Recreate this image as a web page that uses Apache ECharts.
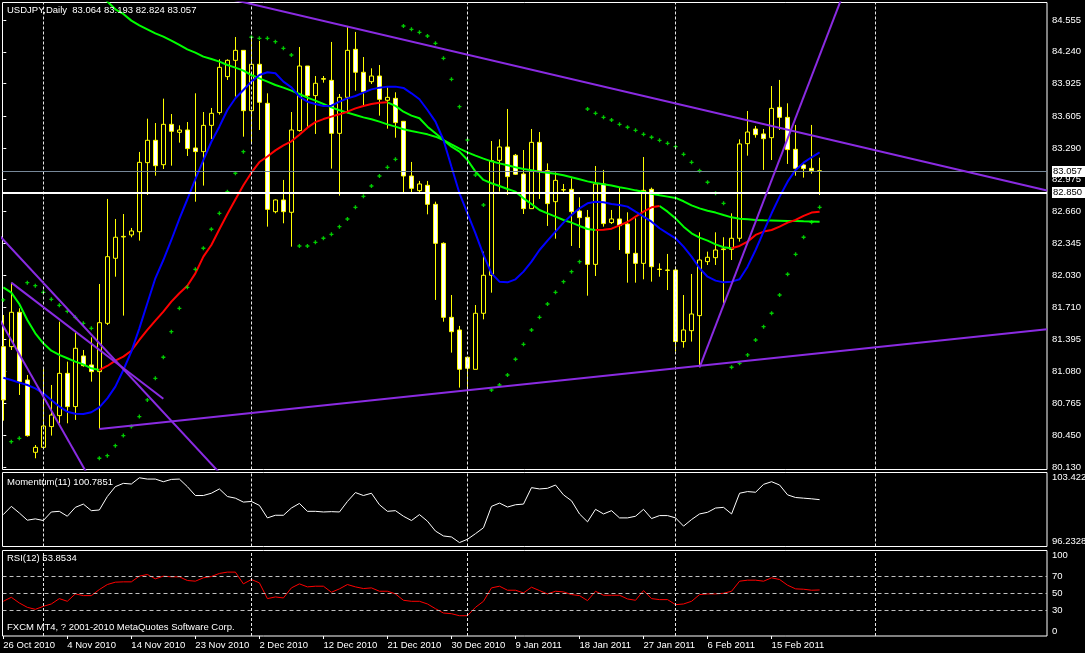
<!DOCTYPE html>
<html><head><meta charset="utf-8">
<script src="https://cdn.jsdelivr.net/npm/echarts@6/dist/echarts.min.js"></script>
<style>html,body{margin:0;padding:0;background:#000;}#c{width:1085px;height:653px;}</style>
</head><body><div id="c"></div>
<script>
const symbolName = 'USDJPY';
const timeframe = 'Daily';
const copyrightText = 'FXCM MT4, ? 2001-2010 MetaQuotes Software Corp.';
const momentumName = 'Momentum(11)';
const rsiName = 'RSI(12)';

const dateLabels = ['26 Oct 2010','4 Nov 2010','14 Nov 2010','23 Nov 2010','2 Dec 2010','12 Dec 2010','21 Dec 2010','30 Dec 2010','9 Jan 2011','18 Jan 2011','27 Jan 2011','6 Feb 2011','15 Feb 2011'];
const dateLabelBars = [0,8,16,24,32,40,48,56,64,72,80,88,96];
const monthGridBars = [5,31,58,84,109];

const opens = [81.324,81.324,81.664,80.994,80.279,80.328,80.533,80.642,81.060,80.731,
81.232,81.143,81.077,81.555,82.198,82.409,82.429,82.461,83.144,83.365,
83.124,83.523,83.444,83.467,83.289,83.253,83.513,83.639,83.995,84.156,
84.255,83.658,84.117,83.731,82.659,82.775,82.653,83.461,84.100,83.807,
83.975,83.958,83.434,83.790,84.265,84.038,83.945,84.001,83.761,83.780,
83.553,83.012,82.867,82.920,82.732,82.346,81.614,81.489,81.219,81.100,
81.654,82.030,83.167,83.299,83.217,83.032,82.689,83.345,83.065,82.758,
82.874,82.880,82.666,82.603,82.138,82.933,82.551,82.587,82.537,82.247,
82.148,82.880,82.091,82.082,82.082,81.374,81.482,81.631,82.165,82.204,
82.284,82.287,82.396,83.332,83.477,83.428,83.391,83.691,83.592,83.276,
83.121,83.088,83.064];
const highs = [81.637,81.957,81.703,81.044,80.351,81.120,80.945,81.571,81.176,81.463,
81.291,81.416,81.944,82.785,82.587,82.636,82.498,83.250,83.579,83.536,
83.777,83.625,83.513,83.546,83.830,83.645,83.685,84.166,84.166,84.387,
84.258,84.390,84.347,83.830,82.781,82.973,83.645,84.288,84.100,84.001,
84.001,84.338,83.823,84.496,84.437,84.189,84.077,84.110,83.889,83.840,
83.553,83.151,82.963,82.963,82.758,82.356,81.835,81.529,81.219,81.736,
82.264,83.358,83.375,83.675,83.230,83.269,83.477,83.447,83.137,83.048,
82.933,82.989,82.801,82.676,83.111,83.072,82.676,82.900,82.653,82.593,
83.200,82.897,82.148,82.241,82.115,81.835,82.043,82.455,82.264,82.455,
82.406,82.643,83.375,83.655,83.507,83.477,83.902,83.962,83.731,83.517,
83.147,83.517,83.193];
const lows = [80.592,81.291,80.846,80.434,80.220,80.318,80.444,80.566,80.566,80.599,
81.126,80.978,80.510,81.538,82.016,81.631,82.406,82.373,82.824,83.015,
83.081,83.114,83.342,83.210,82.758,82.917,83.378,83.619,83.962,83.797,
83.401,83.342,83.467,82.511,82.643,82.544,82.313,83.451,83.494,83.428,
83.935,83.085,82.818,83.632,83.856,83.698,83.922,83.609,83.480,83.391,
82.841,82.841,82.841,82.633,81.786,81.571,81.265,80.919,80.879,81.100,
81.594,81.858,82.857,82.824,83.022,82.636,82.689,82.785,82.518,82.392,
82.841,82.320,82.300,81.828,82.023,82.511,82.537,82.280,81.957,81.957,
81.990,81.967,82.016,81.884,81.275,81.314,81.374,81.120,82.132,82.132,
81.753,82.181,82.363,83.213,83.391,83.072,83.170,83.467,83.131,83.015,
82.996,83.035,82.824];
const closes = [80.797,81.664,80.978,80.444,80.328,80.539,80.648,81.060,80.731,81.308,
81.136,81.077,81.561,82.214,82.406,82.415,82.468,83.147,83.365,83.114,
83.523,83.454,83.467,83.283,83.253,83.513,83.632,84.087,84.156,84.255,
83.658,84.117,83.741,82.682,82.775,82.659,83.467,84.100,83.807,83.929,
83.970,83.434,83.790,84.255,84.038,83.846,84.001,83.770,83.790,83.540,
83.012,82.890,82.933,82.732,82.346,81.614,81.472,81.100,81.110,81.654,
82.030,83.164,83.299,83.006,83.029,82.689,83.345,83.065,82.739,82.969,
82.877,82.659,82.600,82.138,82.933,82.541,82.587,82.521,82.247,82.148,
82.870,82.115,82.087,82.079,81.374,81.489,81.647,82.181,82.208,82.280,
82.290,82.396,83.329,83.447,83.421,83.381,83.681,83.592,83.273,83.088,
83.085,83.064,83.057];

const maFast = [81.017,80.994,80.968,80.945,80.912,80.862,80.797,80.731,80.681,80.661,
80.658,80.675,80.724,80.813,80.928,81.093,81.275,81.505,81.753,82.000,
82.181,82.379,82.587,82.782,82.980,83.170,83.351,83.500,83.665,83.781,
83.863,83.945,84.011,84.038,84.028,83.945,83.889,83.797,83.747,83.724,
83.705,83.708,83.747,83.780,83.803,83.836,83.869,83.886,83.896,83.896,
83.883,83.830,83.771,83.665,83.550,83.368,83.104,82.841,82.643,82.445,
82.231,82.049,81.967,81.960,81.990,82.066,82.165,82.280,82.373,82.462,
82.551,82.626,82.692,82.742,82.758,82.752,82.735,82.725,82.709,82.659,
82.610,82.560,82.495,82.445,82.396,82.313,82.214,82.099,82.016,81.977,
81.960,81.967,81.990,82.115,82.280,82.462,82.643,82.808,82.956,83.072,
83.144,83.197,83.246];
const maMid = [81.911,81.858,81.746,81.588,81.456,81.357,81.284,81.242,81.209,81.176,
81.149,81.110,81.093,81.133,81.186,81.225,81.284,81.390,81.489,81.581,
81.670,81.769,81.852,81.927,82.049,82.214,82.330,82.485,82.636,82.779,
82.920,83.045,83.150,83.205,83.265,83.315,83.355,83.420,83.490,83.545,
83.575,83.599,83.622,83.648,83.681,83.705,83.724,83.737,83.741,83.705,
83.648,83.609,83.583,83.500,83.434,83.368,83.302,83.253,83.170,83.055,
82.973,82.940,82.913,82.883,82.857,82.791,82.735,82.676,82.643,82.610,
82.577,82.551,82.518,82.488,82.478,82.481,82.491,82.524,82.557,82.610,
82.659,82.702,82.715,82.659,82.593,82.511,82.445,82.402,82.373,82.336,
82.307,82.297,82.320,82.363,82.429,82.462,82.478,82.511,82.551,82.577,
82.617,82.650,82.659];
const maSlow = [null,null,null,null,null,null,null,null,null,null,
null,null,84.852,84.737,84.661,84.615,84.549,84.502,84.463,84.423,
84.390,84.351,84.308,84.265,84.232,84.193,84.169,84.143,84.110,84.084,
84.054,84.011,83.978,83.945,83.912,83.886,83.856,83.823,83.787,83.757,
83.724,83.691,83.662,83.639,83.616,83.592,83.573,83.550,83.523,83.500,
83.474,83.457,83.441,83.424,83.401,83.368,83.325,83.283,83.246,83.213,
83.184,83.157,83.137,83.118,83.098,83.081,83.068,83.055,83.045,83.035,
83.019,82.999,82.979,82.959,82.943,82.930,82.917,82.900,82.887,82.870,
82.854,82.837,82.821,82.808,82.795,82.762,82.722,82.692,82.669,82.650,
82.626,82.603,82.590,82.584,82.577,82.574,82.573,82.570,82.567,82.566,
82.564,82.563,82.560];
const sar = [81.786,80.384,80.417,81.957,81.927,81.861,81.792,81.733,81.673,81.614,
81.555,81.505,80.220,80.246,80.345,80.444,80.533,80.632,80.797,81.011,
81.219,81.472,81.703,81.911,82.089,82.297,82.485,82.643,82.857,83.039,
83.253,84.384,84.374,84.374,84.341,84.275,84.209,82.320,82.320,82.356,
82.396,82.435,82.511,82.587,82.702,82.811,82.913,83.012,83.098,83.177,
84.496,84.463,84.433,84.397,84.324,84.176,83.968,83.698,83.368,83.022,
82.725,80.895,80.945,81.044,81.199,81.347,81.489,81.614,81.746,81.861,
81.967,82.066,82.165,83.675,83.632,83.592,83.566,83.523,83.494,83.464,
83.424,83.395,83.365,83.335,83.302,83.226,83.147,83.065,82.950,82.841,
82.742,81.120,81.159,81.242,81.390,81.522,81.654,81.835,82.040,82.237,
82.406,82.554,82.702];
const momentum = [99.332,100.131,99.491,98.789,98.916,98.757,99.587,99.651,99.172,100.035,
100.354,99.715,99.779,101.089,102.048,102.367,102.303,102.910,102.783,102.783,
102.527,102.751,102.783,102.048,101.185,101.185,101.409,101.824,101.089,100.929,
100.546,100.610,100.226,99.012,99.268,99.268,99.971,100.418,99.651,99.651,
99.587,99.619,99.587,100.610,101.472,101.185,101.409,100.290,99.651,99.715,
99.172,98.757,99.332,98.693,97.734,97.255,97.159,96.616,96.935,97.479,
98.054,100.131,100.450,100.067,100.290,100.354,101.952,101.824,101.888,102.207,
101.249,100.674,99.396,98.629,99.843,99.396,99.715,99.012,99.012,99.172,
99.843,98.948,99.236,99.236,99.012,98.213,98.852,99.396,99.555,99.971,
100.035,99.396,101.409,101.568,101.504,102.271,102.527,102.207,101.249,100.993,
100.929,100.865,100.7851];
const rsi = [40.59,45.29,38.63,33.53,31.18,34.71,37.45,43.73,40.59,49.22,
47.25,47.25,54.31,60.20,62.94,63.33,63.33,70.00,71.96,66.86,
70.00,69.22,69.22,64.90,64.12,68.04,69.61,73.14,74.71,74.71,
60.98,66.08,62.16,43.73,45.69,44.51,56.27,60.98,57.45,58.24,
58.24,51.18,55.10,60.20,57.45,55.49,56.27,52.35,52.35,49.22,
41.76,40.59,40.59,37.45,31.96,26.86,26.08,23.73,23.73,33.53,
40.59,56.27,58.24,53.53,53.53,50.39,57.06,53.14,49.22,52.35,
51.57,48.43,47.25,41.37,52.35,47.65,47.65,47.65,43.33,41.76,
53.14,43.73,42.55,42.55,36.67,37.45,40.59,48.43,49.22,49.22,
50.00,52.35,64.12,65.29,65.29,64.12,68.04,66.08,59.41,55.10,
54.71,53.53,53.8534];

const priceTicks = [84.555,84.240,83.925,83.605,83.290,82.975,82.660,82.345,82.030,81.710,81.395,81.080,80.765,80.450,80.130];
const priceMin = 80.1089, priceMax = 84.7281;
const momentumMin = 96.2328, momentumMax = 103.422;
const rsiLevels = [30, 50, 70];
const rsiMin = 0, rsiMax = 100;
const horizontalLine = 82.850;
// trendlines: [[bar, price], [bar, price]]
const trendTop = [[27, 84.787], [130.41, 82.868]];
const trendBottom = [[12, 80.510], [130.41, 81.496]];
const trendSteep = [[87, 81.120], [105, 84.822]];
const trendLeftA = [[-5, 82.809], [30, 79.822]];
const trendLeftB = [[1, 81.957], [20, 80.809]];
const trendLeftC = [[-2, 81.806], [13, 79.715]];

// ---------- build ----------
const FONT = 'Liberation Sans';
const XMIN = -0.1, XMAX = 130.4125;
const last = closes.length - 1;
const bid = closes[last];
const mainTitle = symbolName + ',' + timeframe + '  ' + [opens[last], highs[last], lows[last], closes[last]].map(v => v.toFixed(3)).join(' ');

const candleData = opens.map((o, k) => [k, o, closes[k], lows[k], highs[k]]);
const toXY = arr => arr.map((v, k) => [k, v]);

function colorRuns(arr, wantUp) {
  const out = []; let dir = -1; let inRun = false;
  for (let i = 1; i < arr.length; i++) {
    if (arr[i] == null || arr[i - 1] == null) { inRun = false; continue; }
    if (arr[i] > arr[i - 1]) dir = 1; else if (arr[i] < arr[i - 1]) dir = -1;
    const match = (dir === 1) === wantUp;
    if (match) {
      if (!inRun) { if (out.length) out.push([i - 1, null]); out.push([i - 1, arr[i - 1]]); }
      out.push([i, arr[i]]); inRun = true;
    } else inRun = false;
  }
  return out;
}

const txt = (extra) => Object.assign({ color: '#fff', fontSize: 9.5, fontFamily: FONT, fontWeight: 'normal' }, extra || {});
const gridBase = { left: 2.5, right: 38, show: true, borderColor: '#fff', borderWidth: 1, backgroundColor: '#000', outerBoundsMode: 'none', containLabel: false };

function yAx(grid, min, max, extra) {
  return Object.assign({ type: 'value', gridIndex: grid, position: 'right', min: min, max: max,
    axisLine: { show: false }, splitLine: { show: false }, axisTick: { show: false }, axisLabel: { show: false } }, extra);
}
const lbl = (vals, more) => Object.assign({ show: true, customValues: vals, color: '#fff', fontSize: 9.5, fontFamily: FONT, margin: 5, hideOverlap: false }, more || {});

function lineSeries(data, color, width, xi, yi, z) {
  return { type: 'line', xAxisIndex: xi, yAxisIndex: yi, data: data, showSymbol: false, symbol: 'none',
    connectNulls: false, lineStyle: { color: color, width: width }, itemStyle: { color: color }, z: z, silent: true, animation: false };
}
const vGrid = (xi, yi) => ({ type: 'line', xAxisIndex: xi, yAxisIndex: yi, data: [], z: 1, silent: true,
  markLine: { silent: true, symbol: ['none', 'none'], label: { show: false }, animation: false,
    lineStyle: { color: '#e8e8e8', type: [3, 2], width: 1 }, data: monthGridBars.map(b => ({ xAxis: b })) } });

const trendColor = '#8a2be2';
const plusPath = 'path://M1 0h1v1h1v1h-1v1h-1v-1h-1v-1h1z';

const option = {
  backgroundColor: '#000',
  animation: false,
  textStyle: { fontFamily: FONT },
  title: [
    { text: mainTitle, left: 7, top: 5.5, padding: 0, textStyle: txt() },
    { text: momentumName + ' ' + momentum[last], left: 7, top: 477.5, padding: 0, textStyle: txt() },
    { text: rsiName + ' ' + rsi[last], left: 7, top: 553.5, padding: 0, textStyle: txt() },
    { text: copyrightText, left: 7, top: 622, padding: 0, textStyle: txt() }
  ],
  grid: [
    Object.assign({ top: 2.5, height: 467 }, gridBase),
    Object.assign({ top: 472.5, height: 74 }, gridBase),
    Object.assign({ top: 550.5, height: 85.5 }, gridBase)
  ],
  xAxis: [0, 1, 2].map(g => ({
    type: 'value', gridIndex: g, min: XMIN, max: XMAX, show: g === 2,
    axisLine: { show: false }, splitLine: { show: false },
    axisTick: { show: g === 2, customValues: dateLabelBars, length: 3, lineStyle: { color: '#fff' } },
    axisLabel: { show: g === 2, customValues: dateLabelBars, align: 'left', margin: 4, color: '#fff', fontSize: 9.5, fontFamily: FONT,
      hideOverlap: false, formatter: v => dateLabels[dateLabelBars.indexOf(Math.round(v))] || '' }
  })),
  yAxis: [
    yAx(0, priceMin, priceMax, {
      axisTick: { show: true, customValues: priceTicks, length: 3, lineStyle: { color: '#fff' } },
      axisLabel: lbl(priceTicks, { formatter: v => v.toFixed(3) }) }),
    yAx(0, priceMin, priceMax, { axisLabel: lbl([bid], { formatter: v => v.toFixed(3), color: '#000', backgroundColor: '#fff', padding: [1, 6, 0, 1] }) }),
    yAx(0, priceMin, priceMax, { axisLabel: lbl([horizontalLine], { formatter: v => v.toFixed(3), color: '#000', backgroundColor: '#fff', padding: [1, 6, 0, 1] }) }),
    yAx(1, momentumMin, momentumMax, { axisLabel: lbl([momentumMax], { verticalAlign: 'top', formatter: v => String(v) }) }),
    yAx(1, momentumMin, momentumMax, { axisLabel: lbl([momentumMin], { verticalAlign: 'bottom', formatter: v => String(v) }) }),
    yAx(2, rsiMin, rsiMax, { axisLabel: lbl(rsiLevels) }),
    yAx(2, rsiMin, rsiMax, { axisLabel: lbl([rsiMax], { verticalAlign: 'top' }) }),
    yAx(2, rsiMin, rsiMax, { axisLabel: lbl([rsiMin], { verticalAlign: 'bottom' }) })
  ],
  series: [
    vGrid(0, 0), vGrid(1, 3), vGrid(2, 5),
    { type: 'candlestick', xAxisIndex: 0, yAxisIndex: 0, data: candleData, barWidth: 4, z: 2, clip: true, silent: true,
      itemStyle: { color: '#000', color0: '#fff', borderColor: '#ffff00', borderColor0: '#ffff00', borderColorDoji: '#ffff00', borderWidth: 1 } },
    lineSeries(colorRuns(maSlow, false), '#00ff00', 2, 0, 0, 3),
    lineSeries(colorRuns(maSlow, true), '#ff0000', 2, 0, 0, 3),
    lineSeries(colorRuns(maMid, false), '#00ff00', 2, 0, 0, 3),
    lineSeries(colorRuns(maMid, true), '#ff0000', 2, 0, 0, 3),
    lineSeries(toXY(maFast), '#0000ff', 2, 0, 0, 3),
    { type: 'scatter', xAxisIndex: 0, yAxisIndex: 0, data: toXY(sar), symbol: plusPath, symbolSize: 4, z: 4, silent: true,
      itemStyle: { color: '#00ff00' } },
    lineSeries(trendTop, trendColor, 2, 0, 0, 5),
    lineSeries(trendBottom, trendColor, 2, 0, 0, 5),
    lineSeries(trendSteep, trendColor, 2, 0, 0, 5),
    lineSeries(trendLeftA, trendColor, 2, 0, 0, 5),
    lineSeries(trendLeftB, trendColor, 2, 0, 0, 5),
    lineSeries(trendLeftC, trendColor, 2, 0, 0, 5),
    { type: 'line', xAxisIndex: 0, yAxisIndex: 0, data: [], z: 5, silent: true,
      markLine: { silent: true, symbol: ['none', 'none'], label: { show: false }, animation: false,
        data: [
          { yAxis: bid, lineStyle: { color: '#778899', width: 1, type: 'solid' } },
          { yAxis: horizontalLine, lineStyle: { color: '#ffffff', width: 2, type: 'solid' } }
        ] } },
    lineSeries(toXY(momentum), '#ffffff', 1, 1, 3, 3),
    Object.assign(lineSeries(toXY(rsi), '#ff0000', 1, 2, 5, 3), {
      markLine: { silent: true, symbol: ['none', 'none'], label: { show: false }, animation: false,
        lineStyle: { color: '#c0c0c0', type: [4, 3], width: 1 }, data: rsiLevels.map(v => ({ yAxis: v })) } })
  ]
};

const chart = echarts.init(document.getElementById('c'), null, { renderer: 'canvas' });
chart.setOption(option);
</script>
</body></html>
